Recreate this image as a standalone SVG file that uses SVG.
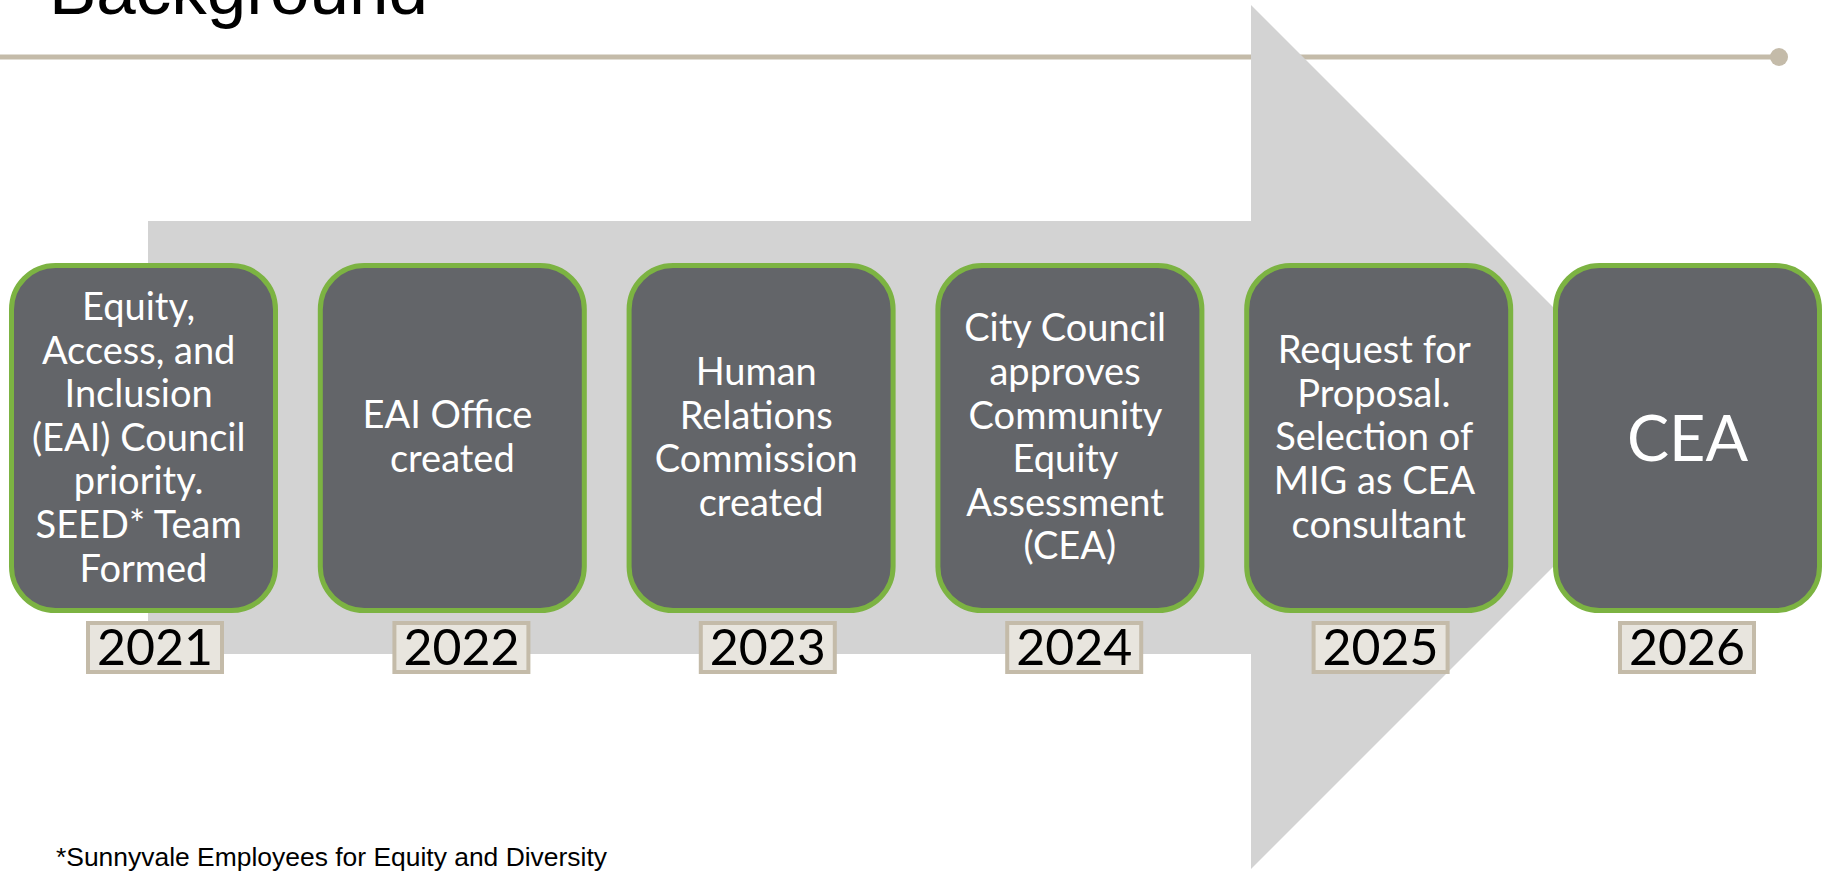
<svg xmlns="http://www.w3.org/2000/svg" width="1824" height="871" viewBox="0 0 1824 871">
  <style>
    .step { fill: #636569; stroke: #7cb342; stroke-width: 5; }
    .year { fill: #e8e5de; stroke: #c4bba9; stroke-width: 4; }
    .lbl { font-family: Lato, "Open Sans", sans-serif; font-size: 38px; fill: #ffffff; text-anchor: middle; }
    .big { font-size: 63px; }
    .yr { font-family: Lato, "Open Sans", sans-serif; font-size: 50px; fill: #000000; text-anchor: middle; }
  </style>
  <rect width="1824" height="871" fill="#ffffff"/>

  <!-- title and rule -->
  <text x="49" y="14" font-family="Liberation Sans, Arial, sans-serif" font-size="71" fill="#000000">Background</text>
  <g id="rule">
    <line x1="0" y1="57" x2="1779" y2="57" stroke="#c4bba9" stroke-width="5"/>
    <circle cx="1779" cy="57" r="9" fill="#c4bba9"/>
  </g>

  <!-- background arrow -->
  <g id="connectors">
    <polygon points="148,221 1251,221 1251,5 1683,437 1251,869 1251,654 148,654" fill="#d3d3d3"/>
  </g>

  <g id="step2021">
    <rect class="step" x="11.5" y="265.5" width="264" height="345" rx="44"/>
    <text class="lbl">
      <tspan x="143.5" y="320">Equity,</tspan>
      <tspan x="143.5" y="363.6">Access, and</tspan>
      <tspan x="143.5" y="407.2">Inclusion</tspan>
      <tspan x="143.5" y="450.8">(EAI) Council</tspan>
      <tspan x="143.5" y="494.4">priority.</tspan>
      <tspan x="143.5" y="538">SEED* Team</tspan>
      <tspan x="143.5" y="581.6">Formed</tspan>
    </text>
    <rect class="year" x="88" y="623" width="134" height="49"/>
    <text class="yr" x="155" y="665">2021</text>
  </g>

  <g id="step2022">
    <rect class="step" x="320.3" y="265.5" width="264" height="345" rx="44"/>
    <text class="lbl">
      <tspan x="452.3" y="428.2">EAI Office</tspan>
      <tspan x="452.3" y="471.8">created</tspan>
    </text>
    <rect class="year" x="394.4" y="623" width="134" height="49"/>
    <text class="yr" x="461.4" y="665">2022</text>
  </g>

  <g id="step2023">
    <rect class="step" x="629.1" y="265.5" width="264" height="345" rx="44"/>
    <text class="lbl">
      <tspan x="761.1" y="385">Human</tspan>
      <tspan x="761.1" y="428.6">Relations</tspan>
      <tspan x="761.1" y="472.2">Commission</tspan>
      <tspan x="761.1" y="515.8">created</tspan>
    </text>
    <rect class="year" x="700.8" y="623" width="134" height="49"/>
    <text class="yr" x="767.8" y="665">2023</text>
  </g>

  <g id="step2024">
    <rect class="step" x="937.9" y="265.5" width="264" height="345" rx="44"/>
    <text class="lbl">
      <tspan x="1069.9" y="341.4">City Council</tspan>
      <tspan x="1069.9" y="385">approves</tspan>
      <tspan x="1069.9" y="428.6">Community</tspan>
      <tspan x="1069.9" y="472.2">Equity</tspan>
      <tspan x="1069.9" y="515.8">Assessment</tspan>
      <tspan x="1069.9" y="559.4">(CEA)</tspan>
    </text>
    <rect class="year" x="1007.2" y="623" width="134" height="49"/>
    <text class="yr" x="1074.2" y="665">2024</text>
  </g>

  <g id="step2025">
    <rect class="step" x="1246.7" y="265.5" width="264" height="345" rx="44"/>
    <text class="lbl">
      <tspan x="1378.7" y="363.2">Request for</tspan>
      <tspan x="1378.7" y="406.8">Proposal.</tspan>
      <tspan x="1378.7" y="450.4">Selection of</tspan>
      <tspan x="1378.7" y="494">MIG as CEA</tspan>
      <tspan x="1378.7" y="537.6">consultant</tspan>
    </text>
    <rect class="year" x="1313.6" y="623" width="134" height="49"/>
    <text class="yr" x="1380.6" y="665">2025</text>
  </g>

  <g id="step2026">
    <rect class="step" x="1555.5" y="265.5" width="264" height="345" rx="44"/>
    <text class="lbl big" x="1687.5" y="461">CEA</text>
    <rect class="year" x="1620" y="623" width="134" height="49"/>
    <text class="yr" x="1687" y="665">2026</text>
  </g>

  <!-- footnote -->
  <text x="56" y="866" font-family="Liberation Sans, Arial, sans-serif" font-size="26" textLength="551" lengthAdjust="spacingAndGlyphs" fill="#000000">*Sunnyvale Employees for Equity and Diversity</text>
</svg>
